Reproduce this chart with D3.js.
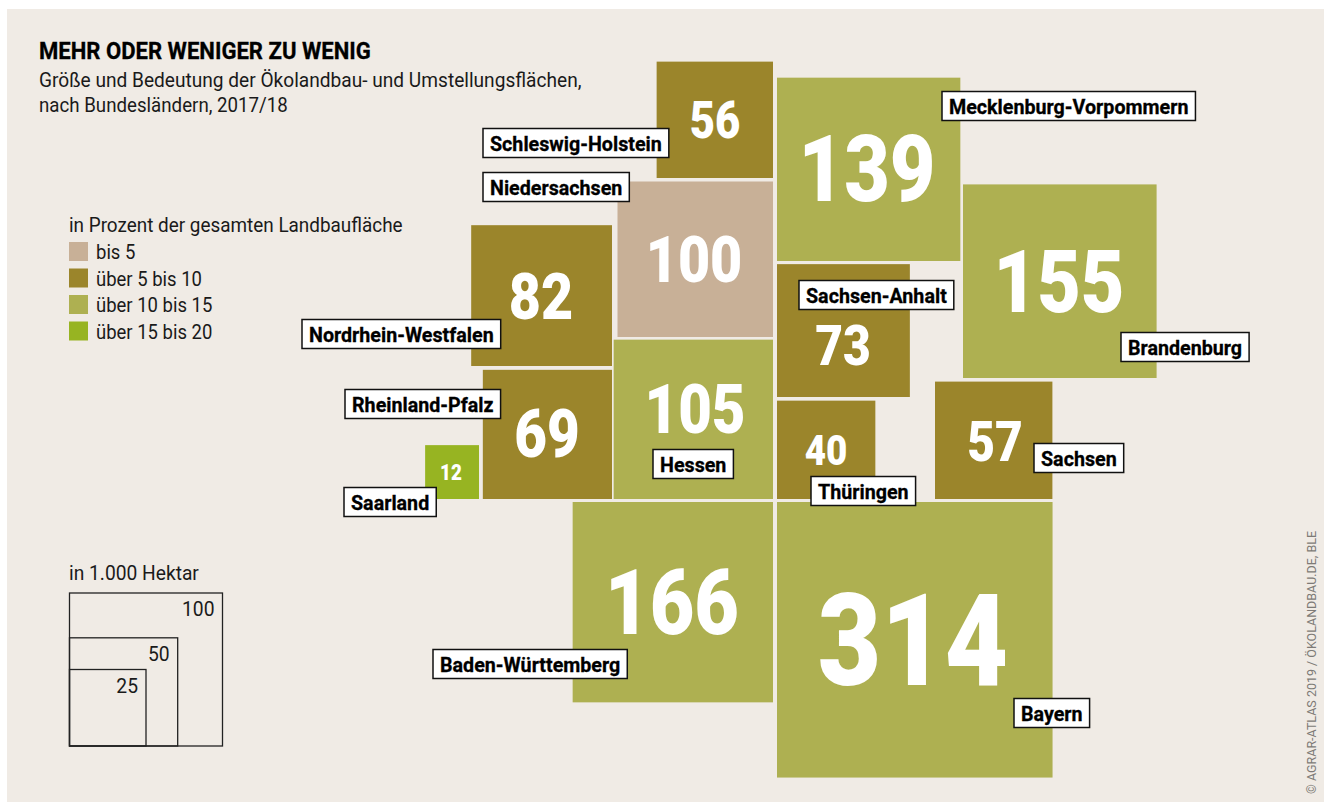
<!DOCTYPE html>
<html lang="de">
<head>
<meta charset="utf-8">
<title>Mehr oder weniger zu wenig</title>
<script src="https://cdn.jsdelivr.net/npm/d3@7"></script>
<style>
    html, body { margin: 0; background: #fff; }
    svg { display: block; }
    text { font-family: "Roboto", sans-serif; fill: #1a1a1a; }
    .bold { font-weight: 700; fill: #000; stroke: #000; stroke-width: 0.3px; }
    .value { font-weight: 900; fill: #fff; text-anchor: middle; }
</style>
</head>
<body>
<div id="chart"></div>
<script>
// values
const states = ["Schleswig-Holstein", "Mecklenburg-Vorpommern", "Brandenburg", "Niedersachsen", "Nordrhein-Westfalen",
    "Sachsen-Anhalt", "Hessen", "Rheinland-Pfalz", "Saarland", "Thüringen", "Sachsen", "Baden-Württemberg", "Bayern"];
const hectares = [56, 139, 155, 100, 82, 73, 105, 69, 12, 40, 57, 166, 314];
const shareClass = [1, 2, 2, 0, 1, 1, 2, 1, 3, 1, 1, 2, 2];
const shareLabels = ["bis 5", "über 5 bis 10", "über 10 bis 15", "über 15 bis 20"];
const sizeKey = [100, 50, 25];

const width = 1324;
const height = 803;

const colors = d3.scaleOrdinal()
    .domain([0, 1, 2, 3])
    .range(["#c8b097", "#9b852b", "#aeb051", "#97b422"]);

// side of a square grows with the root of the area
const side = d3.scaleSqrt().domain([0, 100]).range([0, 155.5]);
const keySide = d3.scaleSqrt().domain([0, 100]).range([0, 153]);

// x: the edge a tile hangs on, grow: which way it goes from there. y is an edge too.
const tileLayout = {
    "Schleswig-Holstein":     {x: 773,  grow: -1, y: 178, down: false, num: [715, 120, 51],   box: [483, 143]},
    "Mecklenburg-Vorpommern": {x: 777,  grow: 1,  y: 261, down: false, num: [867, 168, 92],   box: [942, 106]},
    "Brandenburg":            {x: 963,  grow: 1,  y: 378, down: false, num: [1059, 281, 88],  box: [1121, 347]},
    "Niedersachsen":          {x: 773,  grow: -1, y: 337, down: false, num: [694, 259, 65],   box: [483, 187]},
    "Nordrhein-Westfalen":    {x: 612,  grow: -1, y: 366, down: false, num: [541, 296, 65],   box: [302, 334]},
    "Sachsen-Anhalt":         {x: 777,  grow: 1,  y: 397, down: false, num: [843, 345, 56],   box: [799, 295]},
    "Hessen":                 {x: 773,  grow: -1, y: 499, down: false, num: [695, 409, 68],   box: [653, 464]},
    "Rheinland-Pfalz":        {x: 612,  grow: -1, y: 499, down: false, num: [547, 434, 66],   box: [345, 404]},
    "Saarland":               {x: 479,  grow: -1, y: 499, down: false, num: [451, 472, 22],   box: [344, 502]},
    "Thüringen":              {x: 777,  grow: 1,  y: 499, down: false, num: [826, 450, 43],   box: [811, 491]},
    "Sachsen":                {x: 935,  grow: 1,  y: 499, down: false, num: [995, 441, 56],   box: [1034, 458]},
    "Baden-Württemberg":      {x: 773,  grow: -1, y: 502, down: true,  num: [672, 602, 90],   box: [433, 664]},
    "Bayern":                 {x: 777,  grow: 1,  y: 502, down: true,  num: [913, 640, 128],  box: [1014, 713]}
};

const tiles = states.map((name, i) => {
    const layout = tileLayout[name];
    const s = side(hectares[i]);
    return {
        name: name,
        value: hectares[i],
        share: shareClass[i],
        s: s,
        x: layout.grow < 0 ? layout.x - s : layout.x,
        y: layout.down ? layout.y : layout.y - s,
        layout: layout
    };
});

// the original face is narrower than anything installed, so pull the glyphs together
function squeeze(selection, factor) {
    selection.each(function() {
        const full = this.getComputedTextLength();
        this.setAttribute("textLength", full * factor);
        this.setAttribute("lengthAdjust", "spacingAndGlyphs");
        this.__squeezed = full * factor;
    });
}

const svg = d3.select("#chart").append("svg")
    .attr("width", width)
    .attr("height", height);

svg.append("rect")
    .attr("x", 7)
    .attr("y", 9)
    .attr("width", width - 7)
    .attr("height", 793)
    .attr("fill", "#f0ebe5");

// heading
svg.append("text").attr("class", "bold")
    .attr("x", 39).attr("y", 59)
    .style("font-size", "24px")
    .text("MEHR ODER WENIGER ZU WENIG")
    .call(squeeze, 0.92);
svg.append("text")
    .attr("x", 39).attr("y", 87)
    .style("font-size", "21px")
    .text("Größe und Bedeutung der Ökolandbau- und Umstellungsflächen,")
    .call(squeeze, 0.91);
svg.append("text")
    .attr("x", 39).attr("y", 112)
    .style("font-size", "21px")
    .text("nach Bundesländern, 2017/18")
    .call(squeeze, 0.89);

// tiles
const tile = svg.append("g").selectAll("g")
    .data(tiles)
    .join("g");

tile.append("rect")
    .attr("x", d => d.x)
    .attr("y", d => d.y)
    .attr("width", d => d.s)
    .attr("height", d => d.s)
    .attr("fill", d => colors(d.share));

tile.append("text")
    .attr("class", "value")
    .attr("x", d => d.layout.num[0])
    .attr("y", d => d.layout.num[1] + d.layout.num[2] * 0.355)
    .style("font-size", d => d.layout.num[2] + "px")
    .text(d => d.value)
    .call(squeeze, 0.855);

// name boxes go on top of all the tiles
const nameBox = svg.append("g").selectAll("g")
    .data(tiles)
    .join("g")
    .attr("transform", d => "translate(" + d.layout.box[0] + "," + d.layout.box[1] + ")");

const rects = nameBox.append("rect")
    .attr("y", -14.5)
    .attr("height", 29)
    .attr("fill", "#fff")
    .attr("stroke", "#111")
    .attr("stroke-width", 1.5);

const names = nameBox.append("text")
    .attr("class", "bold")
    .attr("x", 7)
    .attr("y", 7.5)
    .style("font-size", "21px")
    .text(d => d.name)
    .call(squeeze, 0.937);

rects.attr("width", function(d, i) {
    return names.nodes()[i].__squeezed + 14;
});

// colour key
svg.append("text")
    .attr("x", 69).attr("y", 232)
    .style("font-size", "21px")
    .text("in Prozent der gesamten Landbaufläche")
    .call(squeeze, 0.9);

const shareKey = d3.scaleBand()
    .domain(d3.range(shareLabels.length))
    .range([242, 348]);

const keyRow = svg.append("g").selectAll("g")
    .data(shareLabels)
    .join("g")
    .attr("transform", (d, i) => "translate(69," + shareKey(i) + ")");

keyRow.append("rect")
    .attr("width", 19)
    .attr("height", 19)
    .attr("fill", (d, i) => colors(i));

keyRow.append("text")
    .attr("x", 27)
    .attr("y", 17)
    .style("font-size", "21px")
    .text(d => d)
    .call(squeeze, 0.88);

// size key, squares share the lower left corner
svg.append("text")
    .attr("x", 69).attr("y", 580)
    .style("font-size", "20px")
    .text("in 1.000 Hektar")
    .call(squeeze, 0.96);

const keyLeft = 69.5;
const keyBottom = 746;

const keySquare = svg.append("g").selectAll("g")
    .data(sizeKey)
    .join("g");

keySquare.append("rect")
    .attr("x", keyLeft)
    .attr("y", d => keyBottom - keySide(d))
    .attr("width", d => keySide(d))
    .attr("height", d => keySide(d))
    .attr("fill", "none")
    .attr("stroke", "#222")
    .attr("stroke-width", 1.3);

keySquare.append("text")
    .attr("x", d => keyLeft + keySide(d) - 8)
    .attr("y", d => keyBottom - keySide(d) + 23)
    .attr("text-anchor", "end")
    .style("font-size", "20.5px")
    .text(d => d)
    .call(squeeze, 0.94);

// source line
svg.append("text")
    .attr("transform", "translate(1316,794) rotate(-90)")
    .style("font-size", "12.5px")
    .style("fill", "#7d7a76")
    .text("© AGRAR-ATLAS 2019 / ÖKOLANDBAU.DE, BLE");
</script>
</body>
</html>
